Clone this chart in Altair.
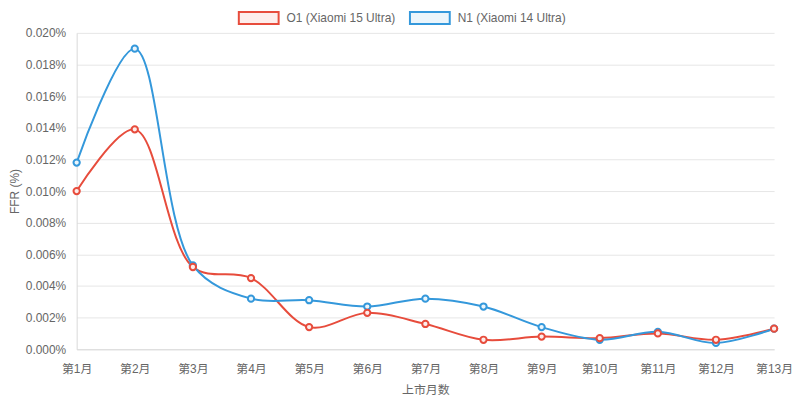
import altair as alt
import pandas as pd

months = ["第1月", "第2月", "第3月", "第4月", "第5月", "第6月", "第7月",
          "第8月", "第9月", "第10月", "第11月", "第12月", "第13月"]
series_names = ["O1 (Xiaomi 15 Ultra)", "N1 (Xiaomi 14 Ultra)"]
o1_values = [0.0100, 0.0139, 0.0052, 0.0045, 0.0014, 0.0023, 0.0016,
             0.0006, 0.0008, 0.0007, 0.0010, 0.0006, 0.0013]
n1_values = [0.0118, 0.0190, 0.0053, 0.0032, 0.0031, 0.0027, 0.0032,
             0.0027, 0.0014, 0.0006, 0.0011, 0.0004, 0.0013]
y_ticks = [0.000, 0.002, 0.004, 0.006, 0.008, 0.010, 0.012, 0.014,
           0.016, 0.018, 0.020]
line_colors = ["#e74c3c", "#3498db"]
fill_colors = ["#fdedeb", "#ebf5fb"]

rows = []
for m, v in zip(months, o1_values):
    rows.append({"month": m, "series": series_names[0], "ffr": v, "z": 1})
for m, v in zip(months, n1_values):
    rows.append({"month": m, "series": series_names[1], "ffr": v, "z": 0})
df = pd.DataFrame(rows)

FONT = "Liberation Sans, Noto Sans CJK SC, sans-serif"

x_enc = alt.X(
    "month:N", sort=months,
    scale=alt.Scale(type="point", padding=0),
    axis=alt.Axis(title="上市月数", grid=False, ticks=False, labelAngle=0,
                  labelPadding=14, domainColor="#d9d9d9", titlePadding=10),
)
y_enc = alt.Y(
    "ffr:Q",
    scale=alt.Scale(domain=[0, 0.020], nice=False),
    axis=alt.Axis(title="FFR (%)", values=y_ticks, ticks=False,
                  labelExpr="format(datum.value, '.3f') + '%'",
                  labelPadding=11, gridColor="#e6e6e6",
                  domainColor="#d9d9d9", titlePadding=4),
)
stroke_scale = alt.Scale(domain=series_names, range=line_colors)
fill_scale = alt.Scale(domain=series_names, range=fill_colors)

legend = alt.Legend(
    title=None, orient="none", direction="horizontal",
    legendX=162, legendY=-36,
    symbolType="M-1,-0.3H1V0.3H-1Z", symbolSize=1600, symbolStrokeWidth=2,
    labelFontSize=12, labelColor="#666", labelFont=FONT,
    labelOffset=7, columnPadding=10,
)

base = alt.Chart(df)

lines = base.mark_line(interpolate="catmull-rom", strokeWidth=2).encode(
    x=x_enc, y=y_enc,
    stroke=alt.Stroke("series:N", scale=stroke_scale, legend=legend),
    order=alt.Order("z:Q"),
)

points = base.mark_point(shape="circle", filled=True, size=40, strokeWidth=2,
                         opacity=1).encode(
    x=x_enc, y=y_enc,
    stroke=alt.Stroke("series:N", scale=stroke_scale, legend=legend),
    fill=alt.Fill("series:N", scale=fill_scale, legend=legend),
    order=alt.Order("z:Q"),
)

chart = alt.layer(lines, points).properties(
    width=701, height=318,
    autosize=alt.AutoSizeParams(type="none"),
    padding={"left": 69, "top": 24, "right": 18, "bottom": 50},
).configure_view(
    strokeWidth=0
).configure_axis(
    labelFont=FONT, labelFontSize=12, labelColor="#666",
    titleFont=FONT, titleFontSize=12, titleColor="#666",
    titleFontWeight="normal",
)

chart.save("out.html", embed_options={"renderer": "svg", "actions": False})
